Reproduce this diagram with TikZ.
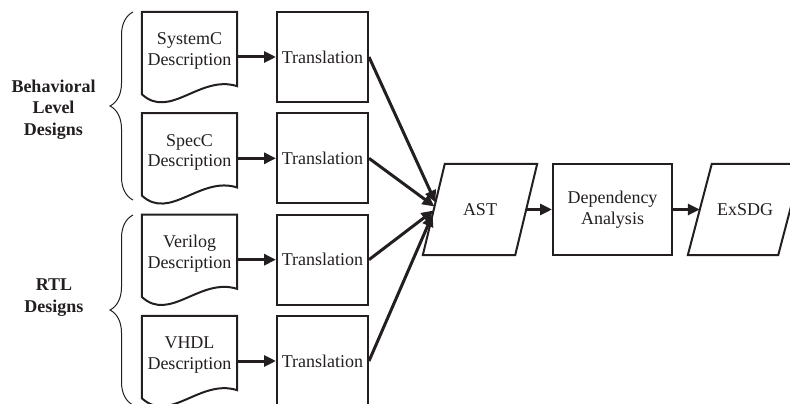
\documentclass[tikz,border=0pt]{standalone}
\usepackage{fontspec}
\setmainfont{Liberation Serif}
\usetikzlibrary{arrows.meta,calc,decorations.pathreplacing}
\definecolor{ink}{RGB}{35,31,32}
\begin{document}
\begin{tikzpicture}[x=1pt,y=-1pt,
  every node/.style={text=ink,font=\fontsize{18}{20.5}\selectfont,align=center,inner sep=0pt},
  docbox/.style={minimum width=95pt,minimum height=78pt},
  transbox/.style={draw=ink,line width=2pt,minimum width=91pt,minimum height=90pt},
  plainbox/.style={draw=ink,line width=2pt,minimum width=119pt,minimum height=91pt},
  slantbox/.style={minimum width=92pt,minimum height=91pt},
  outline/.style={draw=ink,line width=2pt,line join=miter},
  arr/.style={draw=ink,line width=3pt,-{Triangle[length=12pt,width=11pt]}},
  bracestyle/.style={draw=ink,line width=1pt,decorate,decoration={brace,amplitude=23pt}},
  grouplabel/.style={font=\fontsize{18}{21.5}\selectfont\bfseries}
]
\useasboundingbox (0,0) rectangle (790,404);

% document nodes
\node[docbox] (d1) at (189.5,51)   {SystemC\\Description};
\node[docbox] (d2) at (189.5,152.3){SpecC\\Description};
\node[docbox] (d3) at (189.5,253.7){Verilog\\Description};
\node[docbox] (d4) at (189.5,355)  {VHDL\\Description};

\foreach \n in {d1,d2,d3,d4}{
  \draw[outline] ($(\n.south west)+(0,4)$) -- (\n.north west) -- (\n.north east)
    -- ($(\n.south east)+(0,-4)$)
    .. controls ($(\n.south east)+(-37,-16)$) and ($(\n.south west)+(28,30)$) .. ($(\n.south west)+(0,4)$) -- cycle;
}

% translation nodes
\node[transbox] (t1) at (322.5,57)    {Translation};
\node[transbox] (t2) at (322.5,158.3) {Translation};
\node[transbox] (t3) at (322.5,259.7) {Translation};
\node[transbox] (t4) at (322.5,361)   {Translation};

\draw[arr] (t1.west -| d1.east) -- (t1.west);
\draw[arr] (t2.west -| d2.east) -- (t2.west);
\draw[arr] (t3.west -| d3.east) -- (t3.west);
\draw[arr] (t4.west -| d4.east) -- (t4.west);

% AST
\node[slantbox] (ast) at (480,209.5) {AST};
\draw[outline] ($(ast.north west)+(11,0)$) -- ($(ast.north east)+(11,0)$)
  -- ($(ast.south east)+(-11,0)$) -- ($(ast.south west)+(-11,0)$) -- cycle;

% Dependency analysis
\node[plainbox] (dep) at (612.5,209.5) {Dependency\\Analysis};

% ExSDG
\node[slantbox,minimum width=90pt] (ex) at (745,209.5) {ExSDG};
\draw[outline] ($(ex.north west)+(12,0)$) -- ($(ex.north east)+(12,0)$)
  -- ($(ex.south east)+(-12,0)$) -- ($(ex.south west)+(-12,0)$) -- cycle;

% converging arrows
\draw[arr] (t1.east) -- ($(ast.west)+(1.7,-7)$);
\draw[arr] (t2.east) -- ($(ast.west)+(0.7,-3)$);
\draw[arr] (t3.east) -- ($(ast.west)+(-0.3,1)$);
\draw[arr] (t4.east) -- ($(ast.west)+(-1.2,5)$);

\draw[arr] (ast.east) -- (dep.west);
\draw[arr] (dep.east) -- (ex.west);

% braces and group labels
\draw[bracestyle] (133,200) -- (133,12);
\draw[bracestyle] (133,405) -- (133,215);
\node[grouplabel] (g1) at (53.5,109.5) {Behavioral\\Level\\Designs};
\node[grouplabel] (g2) at (54,297.5) {RTL\\Designs};
\end{tikzpicture}
\end{document}
